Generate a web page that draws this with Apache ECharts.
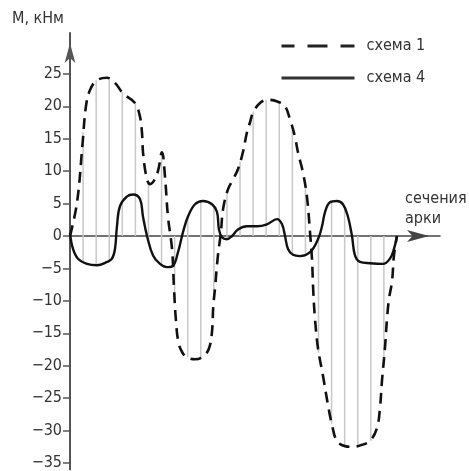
<!DOCTYPE html>
<html>
<head>
<meta charset="utf-8">
<script src="https://cdn.jsdelivr.net/npm/echarts@6/dist/echarts.min.js"></script>
<style>
html, body { margin: 0; padding: 0; background: #fff; }
#chart { width: 469px; height: 471px; }
</style>
</head>
<body>
<div id="chart"></div>
<script>
// moment curves, x in arch sections (0..25), y in kN*m
var scheme1X = [0, 0.54, 0.95, 1.22, 1.53, 2.06, 2.83, 3.44, 4.05, 4.97, 5.35, 5.5, 5.6, 5.89, 6.12, 6.65, 7.03, 7.26, 7.49, 7.8, 7.95, 8.1, 8.3, 8.6, 8.94, 9.56, 10.17, 10.63, 10.86, 10.95, 11.09, 11.31, 11.54, 11.7, 12.08, 12.46, 12.84, 13.23, 13.53, 13.76, 13.99, 14.53, 15.14, 15.9, 16.44, 16.82, 17.2, 17.43, 17.81, 18.12, 18.35, 18.5, 18.6, 18.73, 18.96, 19.34, 19.72, 20.03, 20.41, 21.02, 21.64, 22.32, 22.94, 23.47, 23.7, 23.85, 24.08, 24.24, 24.39, 24.62, 24.77, 25];
var scheme1Y = [0, 5.2, 14, 20, 22.5, 24, 24.4, 23.6, 22, 20.5, 18.4, 16, 12.5, 8.7, 8, 9.5, 12.9, 9.2, 3, -2, -8, -13, -16.5, -18, -18.7, -19, -18.6, -17.3, -14.7, -11, -8, -3, 0.6, 4.1, 7.2, 8.7, 10.3, 13, 16, 17.5, 19, 20.5, 21, 20.7, 20, 18, 15.3, 12.9, 9.8, 6, 0.6, -3.5, -8.5, -12.7, -17.3, -21.5, -26, -29.1, -31.6, -32.4, -32.5, -32.2, -31.6, -29.6, -26.5, -22.4, -17.3, -12.7, -9.7, -7, -3, 0];

var scheme4X = [0, 0.23, 0.61, 1.3, 2.06, 2.83, 3.21, 3.44, 3.59, 3.82, 4.36, 4.82, 5.35, 5.58, 5.89, 6.35, 6.88, 7.42, 7.87, 8.26, 8.64, 9.02, 9.56, 10.17, 10.86, 11.24, 11.39, 11.62, 12.0, 12.39, 12.84, 13.53, 14.3, 15.06, 15.83, 16.21, 16.44, 16.67, 17.05, 17.58, 18.35, 18.96, 19.27, 19.5, 19.88, 20.41, 20.87, 21.25, 21.56, 21.79, 22.17, 22.94, 23.93, 24.46, 24.77, 25];
var scheme4Y = [0.5, -2, -3.5, -4.3, -4.5, -4, -3.5, -2, 1.5, 4.6, 6.1, 6.4, 5.7, 3, 0, -3, -4.3, -4.8, -4.6, -2.5, 0.6, 3, 4.9, 5.4, 4.9, 3.7, 1, -0.2, -0.5, 0, 1, 1.5, 1.5, 1.8, 2.6, 1.8, 0, -2, -2.9, -3.1, -2.5, -0.5, 1.5, 3.7, 5.2, 5.4, 4.9, 3, 0, -3, -4, -4.2, -4.3, -3.5, -2, 0];

// values at the hatched sections
var sections = [1, 2, 3, 4, 5, 6, 7, 8, 9, 10, 11, 12, 13, 14, 15, 16, 17, 18, 19, 20, 21, 22, 23, 24];
var scheme1AtSection = [16, 24, 24.3, 22.2, 20.5, 8.3, 12.9, -9.5, -18.7, -18.8, -9.5, 7.1, 11.5, 19.2, 21, 20.8, 16.5, 8, -18, -29, -32.4, -32.4, -31.6, -20];
var scheme4AtSection = [-4.1, -4.5, -4, 5.3, 6.2, -0.8, -4.4, -4.3, 2.9, 5.4, 4.5, -0.5, 1.1, 1.5, 1.7, 2.3, -2.8, -2.8, -0.4, 5.3, 4.5, -3.6, -4.2, -4.3];

var yTicks = [-35, -30, -25, -20, -15, -10, -5, 0, 5, 10, 15, 20, 25];

var fontName = '"DejaVu Sans Condensed", "DejaVu Sans", sans-serif';

function pairs(xs, ys) {
    return xs.map(function (x, i) { return [x, ys[i]]; });
}

var hatchData = sections.map(function (s, i) {
    var a = scheme1AtSection[i], b = scheme4AtSection[i];
    return [s, Math.min(0, a, b), Math.max(0, a, b)];
});

var chart = echarts.init(document.getElementById('chart'));

var option = {
    animation: false,
    grid: { left: 70, right: 29, top: 33, bottom: 0 },
    xAxis: {
        type: 'value',
        min: 0,
        max: 28.29,
        axisLine: {
            onZero: true,
            symbol: ['none', 'arrow'],
            symbolSize: [9, 22],
            symbolOffset: [0, -11],
            lineStyle: { color: '#444', width: 1.5 }
        },
        axisTick: { show: false },
        axisLabel: { show: false },
        splitLine: { show: false }
    },
    yAxis: {
        type: 'value',
        min: -36,
        max: 31.3,
        axisLine: {
            show: true,
            symbol: ['none', 'arrow'],
            symbolSize: [8, 20],
            symbolOffset: [0, -10],
            lineStyle: { color: '#555', width: 2 }
        },
        axisTick: {
            show: true,
            length: 7,
            customValues: yTicks,
            lineStyle: { color: '#555', width: 1.5 }
        },
        axisLabel: {
            customValues: yTicks,
            margin: 8,
            color: '#333',
            fontSize: 16,
            fontFamily: fontName,
            formatter: function (v) { return v < 0 ? '\u2212' + (-v) : String(v); }
        },
        splitLine: { show: false }
    },
    legend: {
        orient: 'vertical',
        left: 275,
        top: 33,
        itemWidth: 73,
        itemHeight: 14,
        itemGap: 16,
        itemStyle: { opacity: 0 },
        textStyle: { color: '#333', fontSize: 16, fontFamily: fontName, padding: [0, 0, 0, 7] },
        data: [
            { name: 'схема 1', lineStyle: { type: [20, 13], dashOffset: 7, width: 3, color: '#222' } },
            { name: 'схема 4', lineStyle: { width: 3, color: '#333' } }
        ]
    },
    graphic: [
        { type: 'text', left: 12, top: 11, style: { text: 'М, кНм', fill: '#333', font: '16px ' + fontName } },
        { type: 'text', left: 405, top: 189, style: { text: 'сечения\nарки', fill: '#333', font: '16px ' + fontName, lineHeight: 20 } }
    ],
    series: [
        {
            type: 'custom',
            name: 'hatch',
            z: 1,
            data: hatchData,
            renderItem: function (params, api) {
                var p1 = api.coord([api.value(0), api.value(1)]);
                var p2 = api.coord([api.value(0), api.value(2)]);
                return {
                    type: 'line',
                    shape: { x1: p1[0], y1: p1[1], x2: p2[0], y2: p2[1] },
                    style: { stroke: '#c8c8c8', lineWidth: 1.5 }
                };
            }
        },
        {
            type: 'line',
            name: 'схема 1',
            z: 3,
            data: pairs(scheme1X, scheme1Y),
            smooth: 0.4,
            showSymbol: false,
            symbol: 'none',
            lineStyle: { color: '#111', width: 2.6, type: [11, 7] }
        },
        {
            type: 'line',
            name: 'схема 4',
            z: 3,
            data: pairs(scheme4X, scheme4Y),
            smooth: 0.4,
            showSymbol: false,
            symbol: 'none',
            lineStyle: { color: '#111', width: 2.4 }
        }
    ]
};

chart.setOption(option);
</script>
</body>
</html>
